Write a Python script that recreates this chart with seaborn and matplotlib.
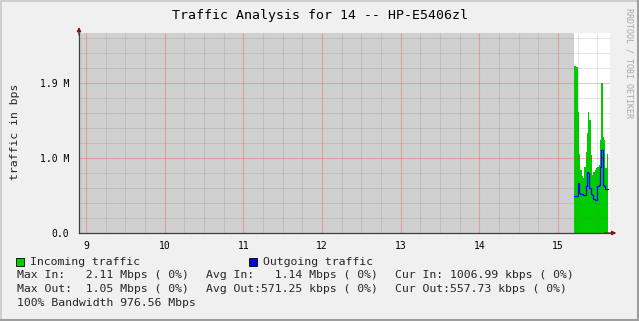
import numpy as np
import pandas as pd
import matplotlib
matplotlib.use("Agg")
import matplotlib.pyplot as plt
from matplotlib.lines import Line2D
from matplotlib.ticker import FixedLocator, MultipleLocator
import seaborn as sns

# ---------------- data ----------------
title = "Traffic Analysis for 14 -- HP-E5406zl"
ylabel = "traffic in bps"
hour_ticks = [9, 10, 11, 12, 13, 14, 15]
y_ticks = [0.0, 0.95e6, 1.9e6]
y_tick_labels = ["0.0", "1.0 M", "1.9 M"]
start_hour = 15
sample_minutes = list(range(12, 38))  # one sample per minute, 15:12 .. 15:37
in_bps = [2.11e6, 2.11e6, 2.10e6, 1.53e6, 1.00e6, 0.80e6, 0.72e6, 0.70e6,
          0.84e6, 1.03e6, 1.27e6, 1.53e6, 1.43e6, 0.99e6, 0.74e6, 0.77e6,
          0.80e6, 0.82e6, 0.84e6, 0.86e6, 1.18e6, 1.90e6, 1.22e6, 1.18e6,
          0.82e6, 1.007e6]
out_bps = [0.47e6, 0.47e6, 0.47e6, 0.63e6, 0.51e6, 0.50e6, 0.49e6, 0.48e6,
           0.48e6, 0.60e6, 0.77e6, 0.76e6, 0.57e6, 0.49e6, 0.48e6, 0.43e6,
           0.42e6, 0.42e6, 0.60e6, 0.61e6, 0.84e6, 1.05e6, 0.61e6, 0.60e6,
           0.56e6, 0.558e6]
legend_names = ["Incoming traffic", "Outgoing traffic"]
stats_in = ["Max In:   2.11 Mbps ( 0%)", "Avg In:   1.14 Mbps ( 0%)",
            "Cur In: 1006.99 kbps ( 0%)"]
stats_out = ["Max Out:  1.05 Mbps ( 0%)", "Avg Out:571.25 kbps ( 0%)",
             "Cur Out:557.73 kbps ( 0%)"]
bandwidth_text = "100% Bandwidth 976.56 Mbps"
credit = "RRDTOOL / TOBI OETIKER"

# ---------------- styles ----------------
GREEN = "#00CC00"
BLUE = "#0000FF"
BACK = "#F0F0F0"
UNKNOWN = "#D0D0D0"
MONO = "DejaVu Sans Mono"

sns.set_style("white")
plt.rcParams["font.family"] = [MONO, "DejaVu Sans"]

W, H = 639, 321
fig = plt.figure(figsize=(W / 100, H / 100), dpi=100)
fig.patch.set_facecolor(BACK)

L, R, T, B = 79, 610, 33, 233
ax = fig.add_axes([L / W, (H - B) / H, (R - L) / W, (B - T) / H])
ax.set_facecolor("white")

# time axis in hours
t = np.array([start_hour + m / 60 for m in sample_minutes])
step = 1 / 60
t_edges = np.append(t, t[-1] + step)
in_ext = np.append(in_bps, in_bps[-1])
out_ext = np.append(out_bps, out_bps[-1])
df = pd.DataFrame({"hour": t_edges, "in": in_ext, "out": out_ext})

x0 = 9 - 7 / 78.67
x1 = 9 + (R - 86) / 78.67
y_top = (B - T) * (0.95e6 / 75)
ax.set_xlim(x0, x1)
ax.set_ylim(0, y_top)

# unknown-data shading before the first sample
ax.axvspan(x0, t[0], color=UNKNOWN, lw=0, zorder=0)

ax.fill_between(df["hour"], 0, df["in"], step="post", color=GREEN, lw=0, zorder=1)
sns.lineplot(data=df, x="hour", y="out", ax=ax, color=BLUE, lw=0.9,
             drawstyle="steps-post", zorder=3, legend=False)

# grid
ax.xaxis.set_major_locator(FixedLocator(hour_ticks))
ax.xaxis.set_minor_locator(MultipleLocator(0.25))
ax.yaxis.set_major_locator(FixedLocator(y_ticks))
ax.yaxis.set_minor_locator(MultipleLocator(0.19e6))
ax.set_xticklabels([str(h) for h in hour_ticks])
ax.set_yticklabels(y_tick_labels)
ax.grid(which="minor", color="#707070", alpha=0.17, lw=0.8, zorder=2)
ax.grid(which="major", color="#FF2020", alpha=0.27, lw=0.8, zorder=2)
ax.set_axisbelow(False)

for s in ["top", "right"]:
    ax.spines[s].set_visible(False)
for s in ["left", "bottom"]:
    ax.spines[s].set_color("#404040")
    ax.spines[s].set_linewidth(0.9)
    ax.spines[s].set_zorder(4)

ax.tick_params(axis="y", which="major", length=3, width=0.8, color="#404040",
               direction="out", pad=4, labelsize=7, labelcolor="black")
ax.tick_params(axis="y", which="minor", length=2, width=0.6, color="#606060",
               direction="in")
ax.tick_params(axis="x", which="major", length=5, width=0.8, color="#E08080",
               direction="inout", pad=3, labelsize=7, labelcolor="black")
ax.tick_params(axis="x", which="minor", length=2, width=0.6, color="#606060",
               direction="in")
for lab in ax.get_xticklabels() + ax.get_yticklabels():
    lab.set_fontfamily(MONO)
ax.set_xlabel("")
ax.set_ylabel("")


def px(x, y):
    return x / W, 1 - y / H


fs = 8.25
fig.text(*px(15.5, 132), ylabel, rotation=90, ha="center", va="center",
         fontsize=fs, family=MONO)

# axis arrows
ax.annotate("", xy=(0, 1.03), xytext=(0, 0.99), xycoords="axes fraction",
            arrowprops=dict(arrowstyle="-|>", color="#7F1010", lw=0.9,
                            mutation_scale=6, shrinkA=0, shrinkB=0))
ax.annotate("", xy=(1.012, 0), xytext=(0.99, 0), xycoords="axes fraction",
            arrowprops=dict(arrowstyle="-|>", color="#7F1010", lw=0.9,
                            mutation_scale=6, shrinkA=0, shrinkB=0))

# title
fig.text(320 / W, 1 - 16 / H, title, ha="center", va="center",
         fontsize=9.5, family=MONO, color="black")
# credit
fig.text(*px(629, 63), credit, ha="center", va="center",
         rotation=270, fontsize=6.0, family=MONO, color="#A8A8A8")

# legend
for (sx, tx, col, name) in [(16, 30, GREEN, legend_names[0]),
                            (249, 263, BLUE, legend_names[1])]:
    fig.patches.append(plt.Rectangle(px(sx, 266), 8 / W, 8 / H,
                                     transform=fig.transFigure,
                                     facecolor=col, edgecolor="black", lw=0.6))
    fig.text(*px(tx, 262), name, ha="left", va="center", fontsize=fs, family=MONO)

cols_x = [17, 206, 395]
for i, s in enumerate(stats_in):
    fig.text(*px(cols_x[i], 275.5), s, ha="left", va="center", fontsize=fs, family=MONO)
for i, s in enumerate(stats_out):
    fig.text(*px(cols_x[i], 289.5), s, ha="left", va="center", fontsize=fs, family=MONO)
fig.text(*px(17, 303), bandwidth_text, ha="left", va="center", fontsize=fs, family=MONO)

# frame shading
def fline(xa, ya, xb, yb, c, lw):
    fig.add_artist(Line2D([xa / W, xb / W], [1 - ya / H, 1 - yb / H],
                          transform=fig.transFigure, color=c, lw=lw))

fline(0, 0.5, W, 0.5, "#CFCFCF", 1.4)
fline(0.5, 0, 0.5, H, "#CFCFCF", 1.4)
fline(0, H - 1, W, H - 1, "#9E9E9E", 2.2)
fline(W - 1, 0, W - 1, H, "#9E9E9E", 2.2)

fig.savefig("out.png", dpi=100, facecolor=BACK)
